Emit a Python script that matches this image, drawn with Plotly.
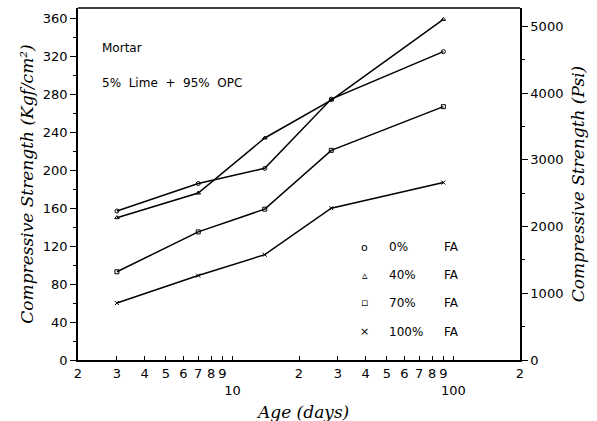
import plotly.graph_objects as go
import numpy as np

age_days = [3, 7, 14, 28, 90]
fa_0 = [157, 186, 202, 275, 325]
fa_40 = [150, 176, 234, 274, 359]
fa_70 = [93, 135, 159, 221, 267]
fa_100 = [60, 89, 111, 160, 187]
series_names = ["0%", "40%", "70%", "100%"]
series_symbols = ["circle-open", "triangle-up-open", "square-open", "x-thin-open"]
legend_glyphs = ["o", "\u25b5", "\u25ab", "\u00d7"]

left_ticks = [0, 40, 80, 120, 160, 200, 240, 280, 320, 360]
right_ticks = [0, 1000, 2000, 3000, 4000, 5000]
KGF_TO_PSI = 14.223

x_tickvals = [2, 3, 4, 5, 6, 7, 8, 9, 10, 20, 30, 40, 50, 60, 70, 80, 90, 100, 200]
x_ticktext = ["2", "3", "4", "5", "6", "7", "8", "9", "<br>10",
              "2", "3", "4", "5", "6", "7", "8", "9", "<br>100", "2"]

ymax = 371
fig = go.Figure()
for vals, name, sym in zip([fa_0, fa_40, fa_70, fa_100], series_names, series_symbols):
    fig.add_trace(go.Scatter(
        x=age_days, y=vals, mode="lines+markers", name=name,
        line=dict(color="black", width=1.5),
        marker=dict(symbol=sym, size=4, color="black", line=dict(width=1, color="black")),
        showlegend=False))
# invisible trace for right axis
fig.add_trace(go.Scatter(x=[age_days[0]], y=[0], yaxis="y2", mode="markers",
                         marker=dict(opacity=0), showlegend=False, hoverinfo="skip"))

tick_font = dict(family="DejaVu Sans", size=13, color="black")
title_font = dict(family="DejaVu Serif", size=17, color="black")

fig.update_layout(
    width=597, height=421,
    margin=dict(l=78, r=77, t=8, b=61),
    paper_bgcolor="white", plot_bgcolor="white",
    showlegend=False,
    xaxis=dict(type="log", range=[np.log10(2), np.log10(200)],
               tickvals=x_tickvals, ticktext=x_ticktext, tickangle=0,
               ticks="inside", ticklen=4, tickwidth=1, tickcolor="black",
               showgrid=False, zeroline=False,
               showline=True, linecolor="black", linewidth=2, mirror=False,
               tickfont=tick_font),
    yaxis=dict(range=[0, ymax], tickvals=left_ticks, ticks="outside", ticklen=6,
               tickcolor="black", showgrid=False, zeroline=False,
               showline=True, linecolor="black", linewidth=1.5,
               minor=dict(dtick=20, ticks="outside", ticklen=3, tickcolor="black"),
               tickfont=tick_font,
               title=dict(text="<i>Compressive Strength (Kgf/cm\u00b2)</i>", font=title_font, standoff=5)),
    yaxis2=dict(overlaying="y", side="right", range=[0, ymax * KGF_TO_PSI],
                tickvals=right_ticks, ticks="outside", ticklen=6, tickcolor="black",
                showgrid=False, zeroline=False,
                showline=True, linecolor="black", linewidth=1.5,
                minor=dict(dtick=500, ticks="outside", ticklen=3, tickcolor="black"),
                tickfont=tick_font,
                title=dict(text="<i>Compressive Strength (Psi)</i>", font=title_font, standoff=10)),
)

# top border
fig.add_shape(type="line", xref="paper", yref="paper", x0=0, x1=1, y0=1, y1=1,
              line=dict(color="black", width=1.5))

# x-axis title
fig.add_annotation(text="<i>Age (days)</i>", xref="paper", yref="paper", x=0.507, y=-0.148,
                   xanchor="center", yanchor="middle", showarrow=False, font=title_font)

ann_font = dict(family="DejaVu Sans", size=12, color="black")
fig.add_annotation(text="Mortar", xref="paper", yref="paper", x=0.05, y=0.886,
                   xanchor="left", yanchor="middle", showarrow=False, font=ann_font)
fig.add_annotation(text="5%  Lime  +  95%  OPC", xref="paper", yref="paper", x=0.05, y=0.787,
                   xanchor="left", yanchor="middle", showarrow=False, font=ann_font)

leg_y = [0.321, 0.241, 0.162, 0.080]
for glyph, name, yy in zip(legend_glyphs, series_names, leg_y):
    fig.add_annotation(text=glyph, xref="paper", yref="paper", x=0.649, y=yy,
                       xanchor="center", yanchor="middle", showarrow=False,
                       font=dict(family="DejaVu Sans", size=11, color="black"))
    fig.add_annotation(text=name, xref="paper", yref="paper", x=0.699, y=yy,
                       xanchor="left", yanchor="middle", showarrow=False, font=ann_font)
    fig.add_annotation(text="FA", xref="paper", yref="paper", x=0.824, y=yy,
                       xanchor="left", yanchor="middle", showarrow=False, font=ann_font)

fig.write_html("out.html")
